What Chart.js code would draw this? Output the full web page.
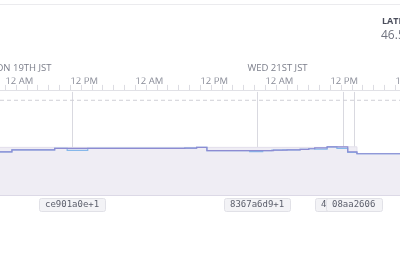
<!DOCTYPE html>
<html>
<head>
<meta charset="utf-8">
<script src="https://cdn.jsdelivr.net/npm/chart.js@4.4.1/dist/chart.umd.min.js"></script>
<style>
  html, body { margin: 0; padding: 0; background: #fff; }
  #wrap { width: 400px; height: 260px; }
</style>
</head>
<body>
<div id="wrap"><canvas id="latencyChart" width="400" height="260"></canvas></div>
<script>
// --- data (hours from Mon 19th 00:00 JST, values in ms) ---
const X_MIN = -1.0;
const X_MAX = 72.85;
const Y_MAX = 111;
const THRESHOLD = 101;

const tickHours = [0, 2, 4, 6, 8, 10, 12, 14, 16, 18, 20, 22, 24, 26, 28, 30, 32, 34, 36,
                   38, 40, 42, 44, 46, 48, 50, 52, 54, 56, 58, 60, 62, 64, 66, 68, 70, 72];

const purpleHours = [-1, 1.2, 9.1, 33.1, 35.3, 37.2, 47.5, 49.5, 52.0, 54.4, 56.0, 57.1, 59.4, 63.2, 64.9, 72.85];
const purpleValues = [46.0, 48.2, 49.7, 50.0, 50.8, 47.3, 47.4, 47.8, 48.2, 48.7, 49.3, 50.3, 51.4, 46.0, 44.0, 44.0];

const blueHours = [-1, 1.2, 9.1, 11.4, 15.2, 33.1, 35.3, 37.2, 45.1, 47.5, 49.2, 51.2, 54.4, 56.0, 57.1, 59.4, 61.2, 63.2, 64.9, 72.85];
const blueValues = [46.0, 48.2, 49.7, 47.5, 49.7, 50.0, 50.8, 47.3, 46.2, 47.4, 47.8, 48.2, 48.7, 49.3, 49.0, 51.4, 49.7, 45.4, 44.0, 44.0];

const maxHours = [-1, 59.4, 64.9, 72.85];
const maxValues = [50.8, 51.4, 44.3, 44.3];

const dayHours = [0, 48];
const dayLabels = ['MON 19TH JST', 'WED 21ST JST'];

const releaseHours = [12.28, 46.43, 62.31, 64.34];
const releaseLabels = ['ce901a0e+1', '8367a6d9+1', '4', '08aa2606'];

const latestLabel = 'LATEST';
const latestValue = '46.5 ms';

function pts(xs, ys) {
    return xs.map((h, i) => ({ x: h, y: ys[i] }));
}

function tickText(v) {
    if (v % 12 !== 0) return '';
    return (v % 24 === 0) ? '12 AM' : '12 PM';
}

const FONT = '"Open Sans", "DejaVu Sans", sans-serif';

// release marker lines go under the series
const releaseLines = {
    id: 'releaseLines',
    beforeDatasetsDraw(chart) {
        const { ctx, chartArea, scales: { x } } = chart;
        ctx.save();
        ctx.strokeStyle = '#d9d9e0';
        ctx.lineWidth = 1;
        releaseHours.forEach(h => {
            const px = Math.round(x.getPixelForValue(h)) + 0.5;
            ctx.beginPath();
            ctx.moveTo(px, chartArea.top + 1);
            ctx.lineTo(px, chartArea.bottom);
            ctx.stroke();
        });
        ctx.restore();
    }
};

// header text, day labels and release tags
const decor = {
    id: 'decor',
    afterDraw(chart) {
        const { ctx, chartArea, scales: { x } } = chart;
        ctx.save();

        ctx.strokeStyle = '#ebebee';
        ctx.lineWidth = 1;
        ctx.beginPath();
        ctx.moveTo(0, 4.5);
        ctx.lineTo(400, 4.5);
        ctx.stroke();

        ctx.textBaseline = 'middle';
        ctx.textAlign = 'left';
        ctx.fillStyle = '#4b4e5c';
        ctx.font = 'bold 9px ' + FONT;
        ctx.fillText(latestLabel, 382, 21);
        ctx.fillStyle = '#70737f';
        ctx.font = '12px ' + FONT;
        ctx.fillText(latestValue, 381, 36);

        ctx.fillStyle = '#7b7e8a';
        ctx.font = '9.5px ' + FONT;
        dayHours.forEach((h, i) => {
            ctx.fillText(dayLabels[i], x.getPixelForValue(h) - 18, 68);
        });

        ctx.font = '9px "DejaVu Sans Mono", monospace';
        releaseHours.forEach((h, i) => {
            const cx = Math.round(x.getPixelForValue(h));
            const tw = ctx.measureText(releaseLabels[i]).width;
            const w = Math.max(Math.round(tw) + 12, 56);
            const left = cx - w / 2;
            const top = chartArea.bottom + 3.5;
            ctx.fillStyle = '#f3f3f6';
            ctx.strokeStyle = '#e1e1e7';
            ctx.beginPath();
            ctx.roundRect(left + 0.5, top, w, 13, 2);
            ctx.fill();
            ctx.stroke();
            ctx.fillStyle = '#5b5e6b';
            ctx.fillText(releaseLabels[i], left + 6, top + 6.5);
        });

        ctx.restore();
    }
};

new Chart(document.getElementById('latencyChart'), {
    type: 'line',
    data: {
        datasets: [
            {
                label: 'p95',
                data: pts(purpleHours, purpleValues),
                borderColor: '#8d8bd2',
                borderWidth: 1.2,
                stepped: true,
                pointRadius: 0,
                fill: false
            },
            {
                label: 'median',
                data: pts(blueHours, blueValues),
                borderColor: '#86b8ea',
                borderWidth: 1.2,
                stepped: true,
                pointRadius: 0,
                fill: false
            },
            {
                label: 'max',
                data: pts(maxHours, maxValues),
                borderColor: '#e3e0ec',
                borderWidth: 1,
                backgroundColor: '#efedf4',
                stepped: true,
                pointRadius: 0,
                fill: 'origin'
            },
            {
                label: 'threshold',
                data: pts([X_MIN, X_MAX], [THRESHOLD, THRESHOLD]),
                borderColor: '#cfcfd6',
                borderWidth: 1,
                borderDash: [4, 3],
                pointRadius: 0,
                fill: false
            }
        ]
    },
    options: {
        responsive: false,
        animation: false,
        layout: { padding: { top: 77.5, bottom: 65, left: 0, right: 0 } },
        plugins: {
            legend: { display: false },
            tooltip: { enabled: false }
        },
        scales: {
            x: {
                type: 'linear',
                position: 'top',
                min: X_MIN,
                max: X_MAX,
                grid: { drawOnChartArea: false, drawTicks: true, tickLength: 6, tickColor: '#dcdce2' },
                border: { display: true, color: '#e1e1e6' },
                ticks: {
                    autoSkip: false,
                    maxRotation: 0,
                    align: 'start',
                    padding: -2,
                    color: '#878a96',
                    font: { family: FONT, size: 9.5 },
                    callback: v => tickText(v)
                },
                afterBuildTicks: s => {
                    s.ticks = tickHours.map(h => ({ value: h }));
                },
                afterFit: s => {
                    s.paddingLeft = 0;
                    s.paddingRight = 0;
                }
            },
            y: {
                display: true,
                min: 0,
                max: Y_MAX,
                ticks: { display: false, stepSize: 25 },
                grid: {
                    drawTicks: false,
                    color: c => (c.tick && (c.tick.value === 0 || c.tick.value === 25) ? '#dcd9e6' : 'transparent')
                },
                border: { display: false }
            }
        }
    },
    plugins: [releaseLines, decor]
});
</script>
</body>
</html>
